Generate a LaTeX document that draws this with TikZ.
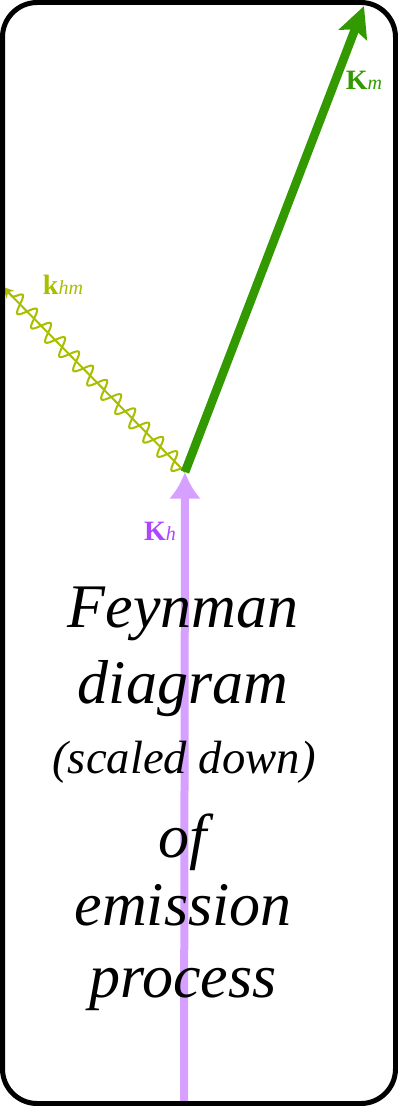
\documentclass[tikz,border=0pt]{standalone}
\usepackage{fontspec}
\setmainfont{Liberation Serif}
\usetikzlibrary{decorations.pathmorphing,arrows.meta}

\definecolor{holeline}{RGB}{213,160,255}
\definecolor{holetext}{RGB}{175,70,255}
\definecolor{magnon}{RGB}{51,153,0}
\definecolor{photon}{RGB}{170,190,0}

\begin{document}
\begin{tikzpicture}[
      x=0.75pt, y=-0.75pt,
      frame/.style={line width=3.75pt, rounded corners=26pt},
      hole/.style={line width=6pt, draw=holeline, -{Latex[length=20pt,width=24pt]}},
      mag/.style={line width=6.5pt, draw=magnon, -{Stealth[length=23pt,width=22pt,inset=4pt]}},
      wave/.style={line width=1.5pt, draw=photon, -{Stealth[length=8pt,width=8pt]},
        postaction={draw=photon, arrows=-, decorate, decoration={snake, segment length=15pt, amplitude=6.5pt, pre length=3pt, post length=9pt}}},
      lab/.style={inner sep=0pt, font=\fontsize{21pt}{23pt}\selectfont},
      big/.style={inner sep=0pt, anchor=base, font=\fontsize{46.5pt}{50pt}\selectfont\itshape}
    ]
    \useasboundingbox (0,0) rectangle (398,1106);

    % ---- vertex and free ends ----
    \def\xv{185}
    \def\yv{472}
    \coordinate (V) at (\xv,\yv);
    \coordinate (Hbot) at (184,1106);
    \coordinate (Mtip) at (364,6);
    \coordinate (HMtip) at (3,287);

    % ================= lines =================
    \draw[hole] (Hbot) -- (V);
    \draw[wave] (V) -- (HMtip);
    \draw[mag] (V) -- (Mtip);

    % ================= caption =================
    \node[big] (l1) at (183,627) {Feynman};
    \node[big] (l2) at (183,703) {diagram};
    \node[big, font=\fontsize{35pt}{38pt}\selectfont\itshape] (l3) at (184,773) {(scaled down)};
    \node[big] (l4) at (183,857) {of};
    \node[big] (l5) at (183,925) {emission};
    \node[big] (l6) at (183,997) {process};

    % ================= labels =================
    \node[lab, text=magnon] (Km) at (364,80) {\textbf{K}{\fontsize{15pt}{15pt}\selectfont\itshape m}};
    \node[lab, text=photon] (khm) at (63,285) {\textbf{k}{\fontsize{15pt}{15pt}\selectfont\itshape hm}};
    \node[lab, text=holetext] (Kh) at (160,531) {\textbf{K}{\fontsize{15pt}{15pt}\selectfont\itshape h}};

    % ---- frame ----
    \draw[frame] (2.5,2.5) rectangle (395.5,1103.5);

    \end{tikzpicture}
\end{document}
